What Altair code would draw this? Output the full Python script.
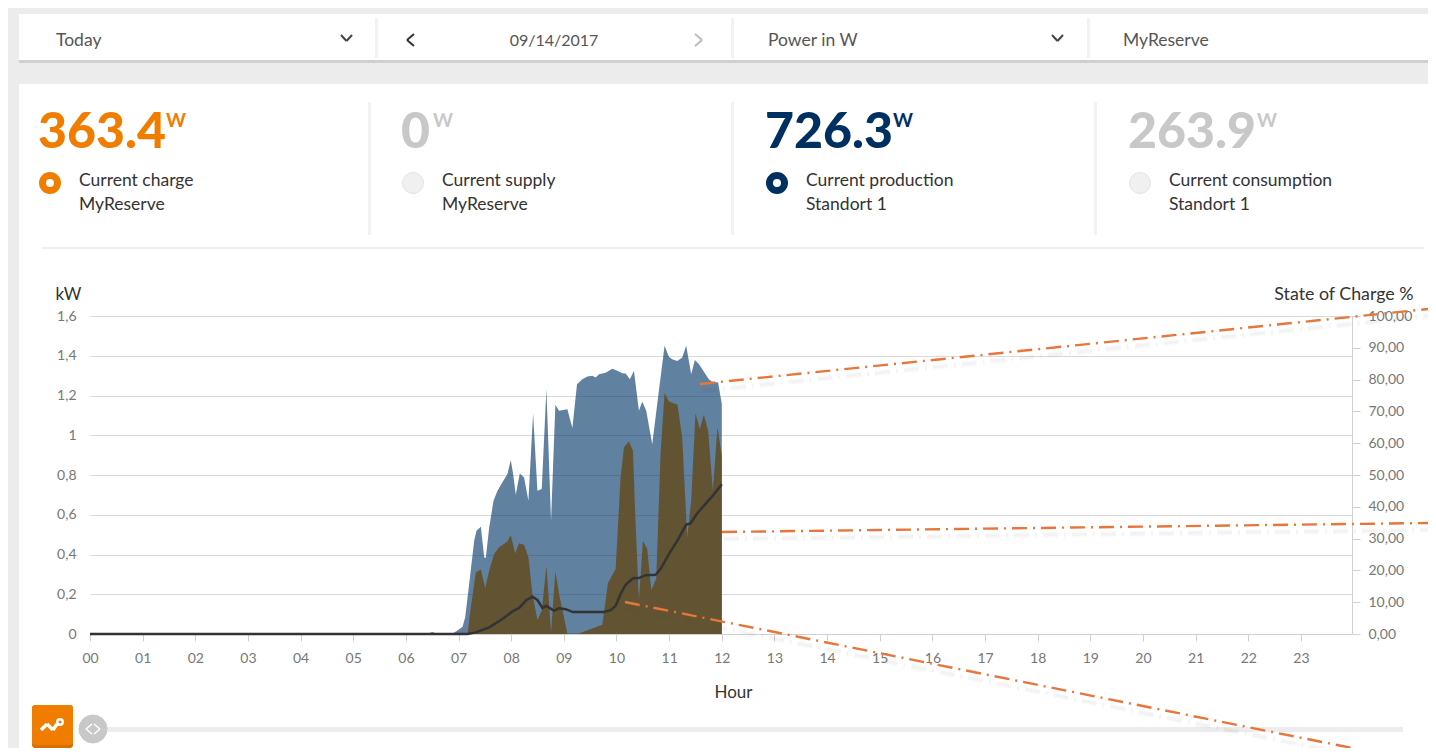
import altair as alt
import pandas as pd

# ---- chart values -----------------------------------------------------
prod_h = [0, 6.4, 6.5, 6.6, 6.886, 6.98, 7.076, 7.126, 7.202, 7.297, 7.341, 7.424, 7.487, 7.518, 7.582, 7.664, 7.74, 7.834, 7.929, 7.992, 8.037, 8.087, 8.163, 8.245, 8.327, 8.416, 8.498, 8.58, 8.669, 8.757, 8.839, 8.909, 9.067, 9.162, 9.25, 9.351, 9.446, 9.541, 9.604, 9.668, 9.794, 9.92, 10.015, 10.11, 10.173, 10.255, 10.331, 10.426, 10.489, 10.565, 10.679, 10.805, 10.913, 10.995, 11.058, 11.153, 11.248, 11.324, 11.419, 11.488, 11.564, 11.754, 11.817, 11.93, 12.0]
prod_kw = [0, 0, .01, 0, .003, .017, .037, .084, .251, .469, .52, .54, .386, .382, .536, .67, .721, .763, .805, .875, .805, .701, .808, .788, .67, 1.11, .721, .729, 1.232, .57, 1.153, 1.123, 1.131, 1.036, 1.257, 1.282, 1.296, 1.299, 1.291, 1.307, 1.314, 1.334, 1.324, 1.312, 1.311, 1.282, 1.324, 1.123, 1.17, 1.123, .955, 1.224, 1.45, 1.395, 1.383, 1.373, 1.391, 1.45, 1.307, 1.378, 1.358, 1.282, 1.269, 1.265, 1.157]

chg_h = [7.171, 7.234, 7.329, 7.424, 7.506, 7.582, 7.676, 7.771, 7.929, 7.992, 8.075, 8.15, 8.245, 8.327, 8.403, 8.498, 8.58, 8.669, 8.757, 8.839, 8.909, 9.067, 9.288, 9.731, 9.838, 9.984, 10.078, 10.142, 10.236, 10.312, 10.363, 10.426, 10.502, 10.584, 10.66, 10.755, 10.837, 10.913, 10.995, 11.159, 11.248, 11.343, 11.419, 11.5, 11.583, 11.659, 11.741, 11.83, 11.918, 12.0]
chg_kw = [0, .134, .31, .325, .231, .318, .402, .436, .466, .498, .406, .456, .448, .386, .201, .07, .117, .344, .008, .315, .201, .003, .003, .047, .256, .327, .788, .939, .969, .922, .553, .168, .469, .427, .221, .277, .905, 1.212, 1.17, 1.153, .989, .486, .67, 1.11, 1.031, 1.103, 1.022, .721, 1.039, .897]

soc_h = [0, 7.171, 7.329, 7.582, 7.834, 8.024, 8.15, 8.29, 8.403, 8.498, 8.593, 8.669, 8.814, 8.909, 9.035, 9.174, 9.415, 9.763, 9.889, 9.984, 10.078, 10.173, 10.312, 10.426, 10.552, 10.742, 10.837, 10.995, 11.153, 11.324, 11.406, 11.532, 11.69, 11.83, 12.0]
soc_pct = [0, 0, .5, 2.1, 4.7, 7.1, 8.2, 10.7, 11.7, 10.7, 8.2, 8.8, 7.3, 8.1, 7.8, 6.9, 6.9, 6.9, 7.5, 8.9, 12.6, 15.5, 17.5, 17.6, 18.5, 18.6, 20.4, 25.1, 29.3, 34.4, 34.8, 37.9, 40.9, 43.5, 47.1]

kw_ticks = [0, .2, .4, .6, .8, 1, 1.2, 1.4, 1.6]
soc_ticks = [0, 10, 20, 30, 40, 50, 60, 70, 80, 90, 100]
hour_ticks = list(range(24))

FONT = "Lato"
ORANGE = "#F07D00"
NAVY = "#003060"
PALE = "#C8C8C8"
BAND = "#ECECEC"

# plot area on the page
OX, OY = 90, 316
PW, PH = 1262, 318
ONE = alt.Data(values=[{"k": 0}])


def X(v):
    return alt.value(v - OX)


def Y(v):
    return alt.value(v - OY)


def box(x0, y0, x1, y1, color, radius=0):
    return alt.Chart(ONE).mark_rect(color=color, cornerRadius=radius).encode(
        x=X(x0), x2=X(x1), y=Y(y0), y2=Y(y1))


def seg(x0, y0, x1, y1, color, w=2, dash=None, opacity=1):
    kw = dict(color=color, strokeWidth=w, opacity=opacity)
    if dash:
        kw["strokeDash"] = dash
    return alt.Chart(ONE).mark_rule(**kw).encode(
        x=X(x0), x2=X(x1), y=Y(y0), y2=Y(y1))


def label(x, y, s, size=17.5, color="#333333", weight="normal", align="left", font=FONT):
    return alt.Chart(ONE).mark_text(
        text=s, font=font, fontSize=size, color=color, fontWeight=weight,
        align=align, baseline="middle").encode(x=X(x), y=Y(y))


def dot(x, y, size, fill, stroke, w):
    return alt.Chart(ONE).mark_point(
        filled=False, shape="circle", size=size, fill=fill, stroke=stroke,
        strokeWidth=w, opacity=1, fillOpacity=1).encode(x=X(x), y=Y(y))


chrome = [
    box(8, 8, 1428, 14, BAND),
    box(8, 8, 19, 748, BAND),
    box(19, 60, 1428, 63, "#CFCFCF"),
    box(19, 63, 1428, 84, BAND),
    box(375, 18, 378, 58, "#F2F2F2"),
    box(731, 18, 734, 58, "#F2F2F2"),
    box(1087, 18, 1090, 58, "#F2F2F2"),
    box(368, 102, 371, 235, "#F2F2F2"),
    box(731, 102, 734, 235, "#F2F2F2"),
    box(1094, 102, 1097, 235, "#F2F2F2"),
    box(42, 247, 1424, 249, "#EFEFEF"),
    box(107, 727, 1403, 732, BAND),
    box(32, 705, 73, 748, "#D96F00", 3),
    box(32, 705, 73, 745, ORANGE, 3),
]

toolbar = [
    label(56, 40.5, "Today", color="#555555"),
    label(554, 41, "09/14/2017", size=16, color="#555555", align="center"),
    label(768, 40.5, "Power in W", color="#555555"),
    label(1123, 40.5, "MyReserve", color="#555555"),
    seg(341, 35, 346.5, 41, "#444444"), seg(346.5, 41, 352, 35, "#444444"),
    seg(1052, 35, 1057.5, 41, "#444444"), seg(1057.5, 41, 1063, 35, "#444444"),
    seg(414, 34, 407, 40, "#333333"), seg(407, 40, 414, 46, "#333333"),
    seg(695, 34, 702, 40, "#BBBBBB"), seg(702, 40, 695, 46, "#BBBBBB"),
]

cards = []
for x, big, col, wx, lx, l1, l2, on in [
    (38, "363.4", ORANGE, 166, 79, "Current charge", "MyReserve", True),
    (401, "0", PALE, 433, 442, "Current supply", "MyReserve", False),
    (765, "726.3", NAVY, 893, 806, "Current production", "Standort 1", True),
    (1128, "263.9", PALE, 1257, 1169, "Current consumption", "Standort 1", False),
]:
    cards += [
        label(x, 133, big, size=50, color=col, weight=900),
        label(wx, 120.5, "W", size=19, color=col, weight="bold"),
        label(lx, 181, l1),
        label(lx, 205, l2),
    ]
    cx = lx - 29
    if on:
        cards.append(dot(cx, 183, 225, "#FFFFFF", col, 7))
    else:
        cards.append(dot(cx, 183, 441, "#F0F0F0", "#E4E4E4", 1))

slider = [
    seg(41, 730, 47, 724, "#FFFFFF", 3.5), seg(47, 724, 53, 730, "#FFFFFF", 3.5),
    seg(53, 730, 57, 724, "#FFFFFF", 3.5),
    dot(60, 722, 30, ORANGE, "#FFFFFF", 2.5),
    dot(93, 729, 784, PALE, PALE, 1),
    seg(92, 724, 86, 729, "#FFFFFF", 1.5), seg(86, 729, 92, 734, "#FFFFFF", 1.5),
    seg(94, 724, 100, 729, "#FFFFFF", 1.5), seg(100, 729, 94, 734, "#FFFFFF", 1.5),
]

# ---- data layers -------------------------------------------------------
x_scale = alt.Scale(domain=[0, 23.97], nice=False)
kw_scale = alt.Scale(domain=[0, 1.6], nice=False)
soc_scale = alt.Scale(domain=[0, 100], nice=False)

x_axis = alt.Axis(
    values=hour_ticks, labelExpr="pad(datum.value, 2, '0', 'left')", title="Hour",
    grid=False, domainColor="#D0D0D0", tickColor="#D0D0D0", tickSize=7,
    labelColor="#777777", labelFont=FONT, labelFontSize=14, labelPadding=10,
    titleFont=FONT, titleFontSize=17, titleFontWeight="normal", titleColor="#333333",
    titleX=643, titleY=50, labelOverlap=False, labelFlush=False,
)
kw_axis = alt.Axis(
    values=kw_ticks, labelExpr="replace(format(datum.value, '~g'), '.', ',')",
    title="kW", titleAngle=0, titleAlign="left", titleBaseline="middle", titleX=-35, titleY=-22,
    titleFont=FONT, titleFontSize=17, titleFontWeight="normal", titleColor="#333333",
    grid=True, gridColor="#D9D9D9", domain=False, ticks=False, labelPadding=14,
    labelColor="#777777", labelFont=FONT, labelFontSize=14,
)
soc_axis = alt.Axis(
    values=soc_ticks, orient="right", labelExpr="replace(format(datum.value, '.2f'), '.', ',')",
    title="State of Charge %", titleAngle=0, titleAlign="right", titleBaseline="middle",
    titleX=61, titleY=-22, titleFont=FONT, titleFontSize=17.8, titleFontWeight="normal",
    titleColor="#333333", grid=False, domainColor="#D0D0D0", tickColor="#D0D0D0", tickSize=8,
    labelPadding=8, labelColor="#777777", labelFont=FONT, labelFontSize=14,
)

blue = alt.Chart(pd.DataFrame({"h": prod_h, "kw": prod_kw})).mark_area(
    color="#003366", opacity=0.62).encode(
    x=alt.X("h:Q", scale=x_scale, axis=x_axis),
    y=alt.Y("kw:Q", scale=kw_scale, axis=kw_axis))

brown = alt.Chart(pd.DataFrame({"h": chg_h, "kw": chg_kw})).mark_area(
    color="#62502A", opacity=0.93).encode(
    x=alt.X("h:Q", scale=x_scale, axis=x_axis),
    y=alt.Y("kw:Q", scale=kw_scale, axis=None))

soc = alt.Chart(pd.DataFrame({"h": soc_h, "s": soc_pct})).mark_line(
    color="#333333", strokeWidth=2.5).encode(
    x=alt.X("h:Q", scale=x_scale, axis=x_axis),
    y=alt.Y("s:Q", scale=soc_scale, axis=soc_axis))

# ---- dash-dot leader lines with their soft shadow ----------------------
DASH = [15, 6, 2, 6]
leaders = []
for x0, y0, x1, y1 in [(700, 384, 1428, 309), (722, 532, 1428, 523), (625, 602, 1352, 748)]:
    leaders += [
        seg(x0 + 2, y0 + 7, x1, y1 + 7, "#555555", 6, DASH, 0.03),
        seg(x0 + 2, y0 + 7, x1, y1 + 7, "#555555", 3, DASH, 0.04),
        seg(x0, y0, x1, y1, "#E8763A", 2.4, DASH),
    ]

chart = alt.layer(
    *chrome, blue, brown, soc, *toolbar, *cards, *slider, *leaders
).resolve_scale(y="independent", x="shared").properties(
    width=PW, height=PH,
    padding={"left": OX - 8, "top": OY - 8, "right": 76, "bottom": 114},
    autosize=alt.AutoSizeParams(type="none"),
    background="#FFFFFF",
).configure_view(stroke=None)

chart.save("out.html", embed_options={"renderer": "svg", "actions": False})
